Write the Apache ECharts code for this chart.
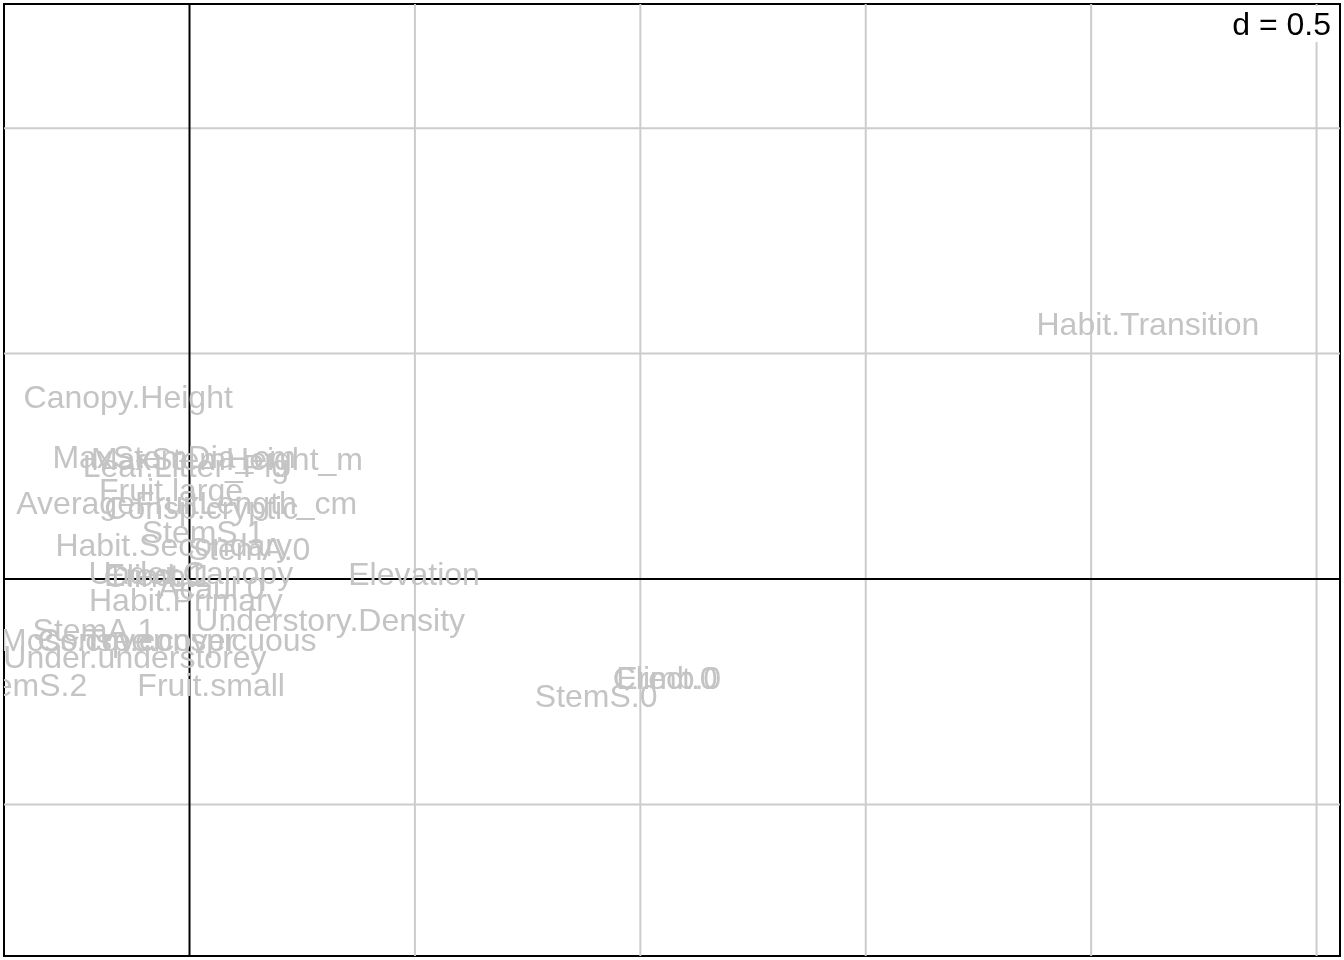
<!DOCTYPE html>
<html>
<head>
<meta charset="utf-8">
<script src="https://cdn.jsdelivr.net/npm/echarts@6/dist/echarts.min.js"></script>
<style>
html,body{margin:0;padding:0;background:#fff;}
#chart{width:1344px;height:960px;}
</style>
</head>
<body>
<div id="chart"></div>
<script>
// Label names and their coordinates (axis 1, axis 2)
var labelNames = [
  "Habit.Transition","Canopy.Height","MaxStemDia_cm","MaxStemHeight_m","Leaf.Litter_Plg",
  "Fruit.large","AverageFruitLength_cm","Consp.cryptic","StemS.1","Habit.Secondary","StemA.0",
  "Under.Canopy","Erect.1","Climb.1","Acaul.0","Elevation","Habit.Primary","Understory.Density",
  "StemA.1","Moss.cover","Tree.cover","Consp.conspicuous","Under.understorey","StemS.2",
  "Fruit.small","StemS.0","Erect.0","Climb.0"
];
var axis1 = [
  2.126,-0.136,-0.034,0.083,-0.008,
  -0.041,-0.006,0.026,0.030,-0.035,0.132,
  0.003,-0.077,-0.070,0.048,0.498,-0.008,0.312,
  -0.212,-0.239,-0.065,-0.028,-0.121,-0.363,
  0.048,0.902,1.059,1.059
];
var axis2 = [
  0.566,0.404,0.271,0.266,0.251,
  0.197,0.169,0.158,0.104,0.075,0.067,
  0.013,0.009,0.007,-0.020,0.011,-0.047,-0.091,
  -0.113,-0.135,-0.135,-0.135,-0.173,-0.235,
  -0.235,-0.260,-0.220,-0.220
];
var gridX = [0.5, 1.0, 1.5, 2.0, 2.5];
var gridY = [-0.5, 0.5, 1.0];
var originX = [0];
var originY = [0];
var xRange = [-0.4115, 2.552];
var yRange = [-0.8363, 1.2755];
var scaleText = "d = 0.5";

var labelData = labelNames.map(function(n, i){ return [axis1[i], axis2[i]]; });
var FONT = '32px "Liberation Sans", Arial, sans-serif';

function lineSeries(xs, ys, color, width, z){
  var data = [];
  xs.forEach(function(v){ data.push([0, v]); });
  ys.forEach(function(v){ data.push([1, v]); });
  return {
    type: 'custom', clip: true, z: z, silent: true,
    data: data,
    renderItem: function(params, api){
      var kind = api.value(0), v = api.value(1), p1, p2;
      if (kind === 0) { p1 = api.coord([v, yRange[0]]); p2 = api.coord([v, yRange[1]]); }
      else { p1 = api.coord([xRange[0], v]); p2 = api.coord([xRange[1], v]); }
      return { type: 'line', shape: {x1:p1[0], y1:p1[1], x2:p2[0], y2:p2[1]},
               style: {stroke: color, lineWidth: width} };
    }
  };
}

var chart = echarts.init(document.getElementById('chart'), null, {renderer: 'canvas'});
chart.setOption({
  animation: false,
  backgroundColor: '#ffffff',
  grid: {left: 4, right: 4, top: 4, bottom: 4, show: true, borderColor: '#000', borderWidth: 2, backgroundColor: 'transparent'},
  xAxis: {type: 'value', min: xRange[0], max: xRange[1], show: false},
  yAxis: {type: 'value', min: yRange[0], max: yRange[1], show: false},
  series: [
    lineSeries(gridX, gridY, '#cccccc', 2, 1),
    lineSeries(originX, originY, '#000000', 2, 2),
    {
      type: 'custom', clip: true, z: 3, silent: true,
      data: labelData,
      renderItem: function(params, api){
        var p = api.coord([api.value(0), api.value(1)]);
        return { type: 'text', x: p[0], y: p[1] + 2,
          style: { text: labelNames[params.dataIndex], fill: '#c4c4c4', font: FONT,
                   align: 'center', verticalAlign: 'middle' } };
      }
    }
  ],
  graphic: [
    { type: 'rect', z: 100, shape: {x: 1224, y: 6, width: 112, height: 36}, style: {fill: '#ffffff'} },
    { type: 'text', z: 101, x: 1331, y: 26,
      style: { text: scaleText, fill: '#000', font: FONT, align: 'right', verticalAlign: 'middle' } }
  ]
});
</script>
</body>
</html>
